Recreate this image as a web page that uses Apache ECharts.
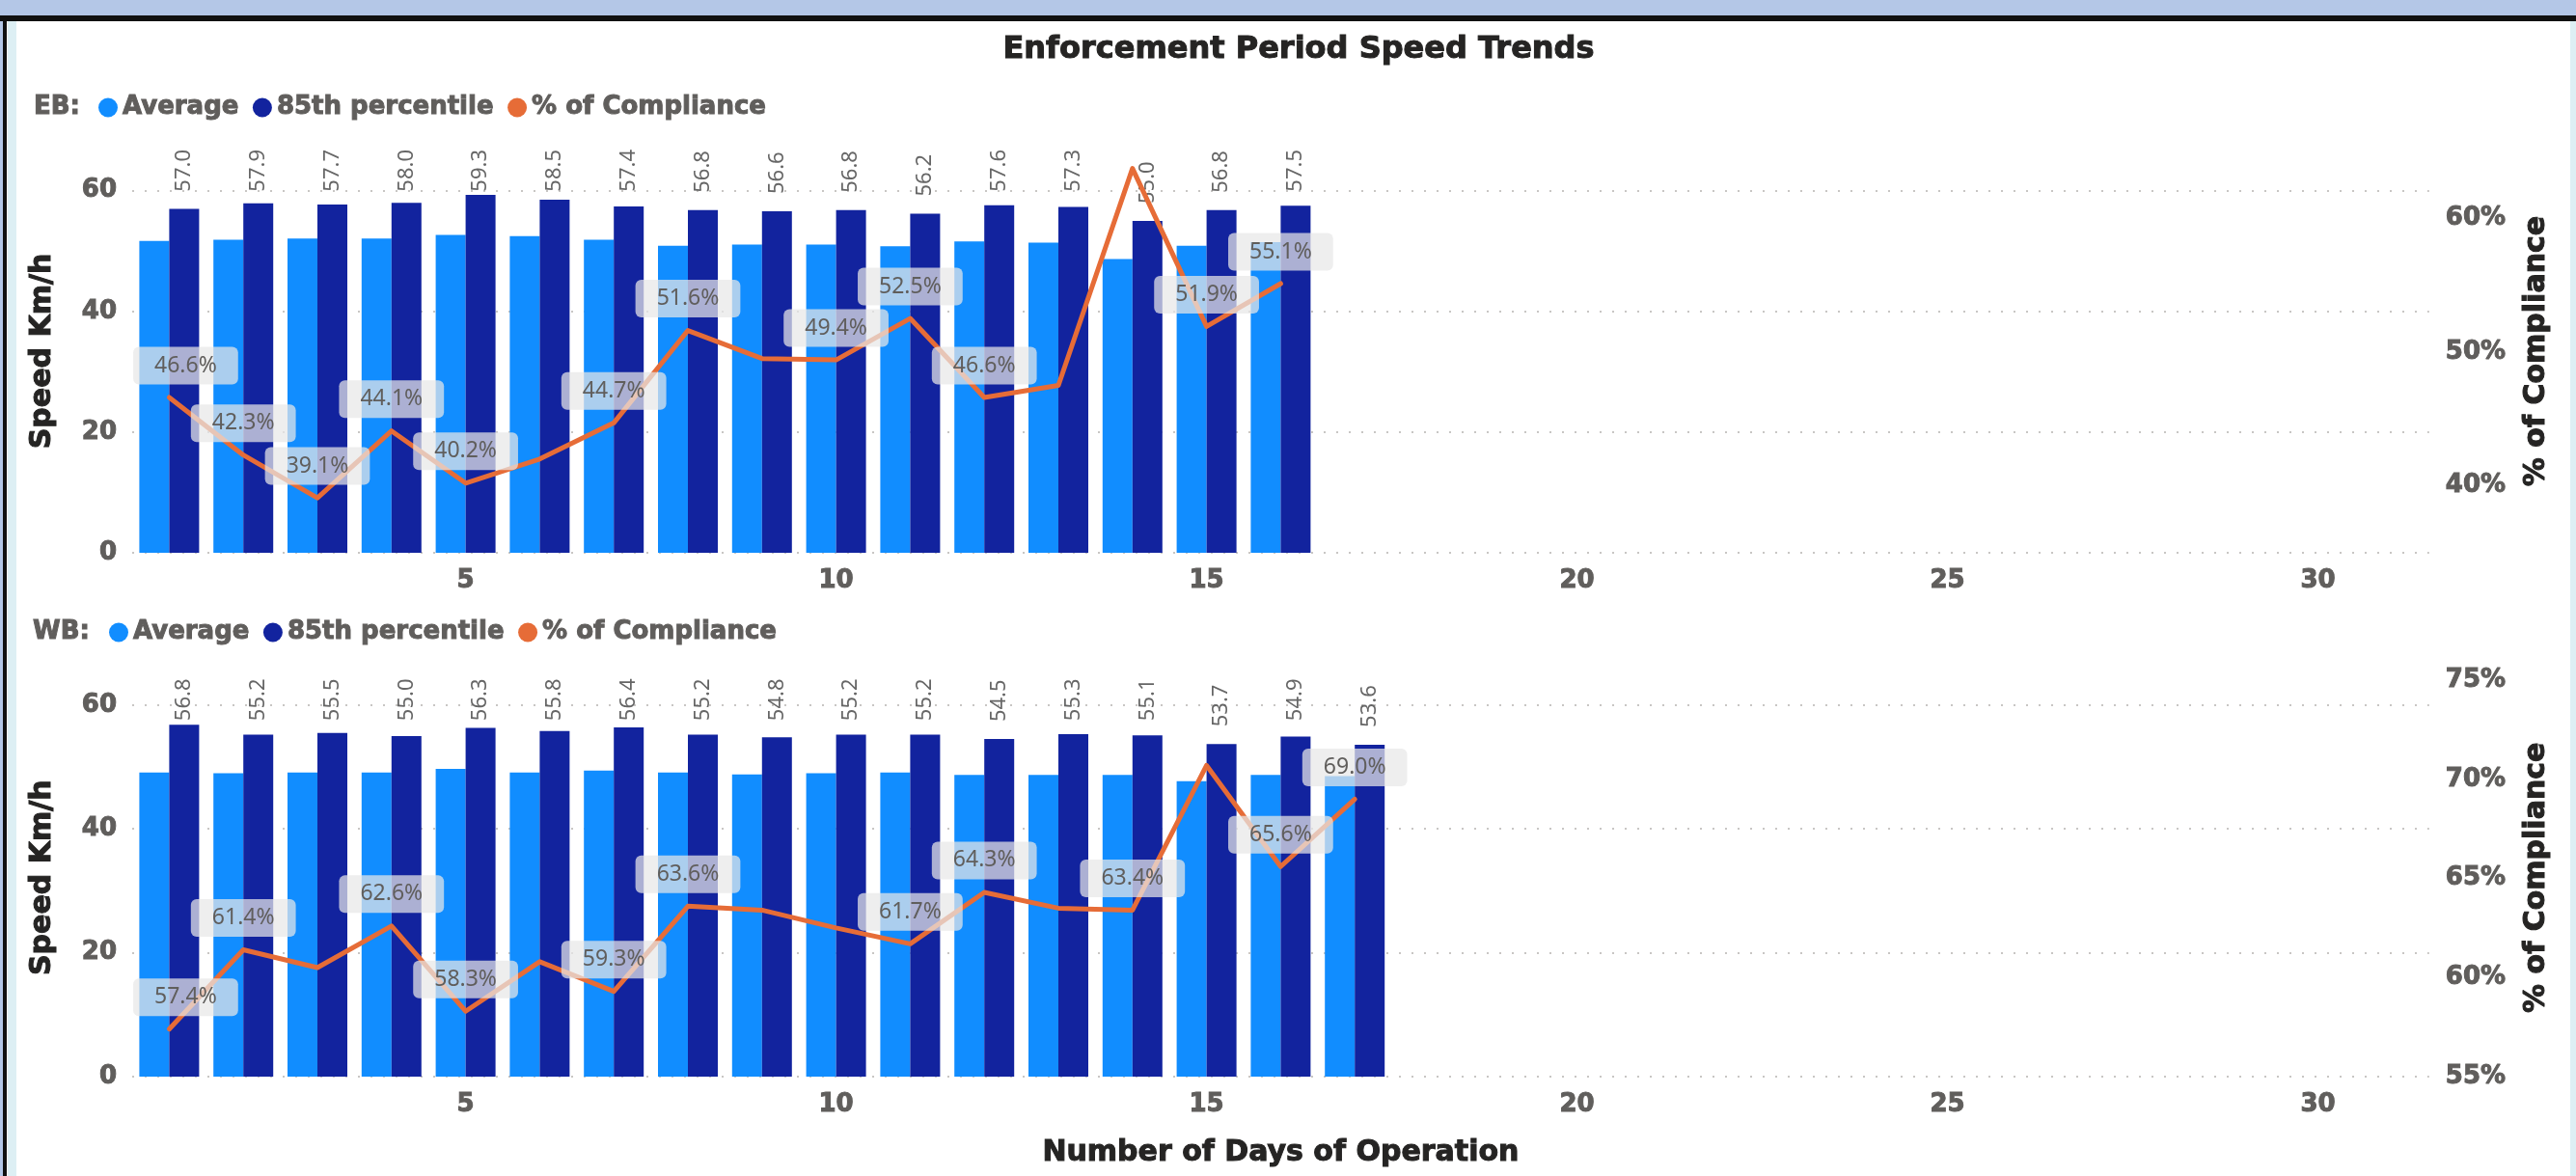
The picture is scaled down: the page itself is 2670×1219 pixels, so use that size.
<!DOCTYPE html>
<html>
<head>
<meta charset="utf-8">
<title>Enforcement Period Speed Trends</title>
<script src="https://cdn.jsdelivr.net/npm/echarts@6/dist/echarts.min.js"></script>
<style>
  html, body { margin: 0; padding: 0; background: #ffffff; }
  #chart { width: 2670px; height: 1219px; }
</style>
</head>
<body>
<div id="chart"></div>
<script>
// Day of operation categories (x axis) and the days that carry a tick label
const days = [1, 2, 3, 4, 5, 6, 7, 8, 9, 10, 11, 12, 13, 14, 15, 16, 17, 18, 19, 20,
              21, 22, 23, 24, 25, 26, 27, 28, 29, 30, 31];
const dayTicks = [5, 10, 15, 20, 25, 30];

// Axis tick labels
const speedTicks = [0, 20, 40, 60];
const ebPctTicks = [40, 50, 60];
const wbPctTicks = [55, 60, 65, 70, 75];

// Eastbound (EB)
const ebAverage    = [51.7, 51.9, 52.1, 52.1, 52.7, 52.5, 51.9, 50.9, 51.1, 51.1, 50.8, 51.6, 51.4, 48.7, 50.9, 51.5];
const eb85th       = [57.0, 57.9, 57.7, 58.0, 59.3, 58.5, 57.4, 56.8, 56.6, 56.8, 56.2, 57.6, 57.3, 55.0, 56.8, 57.5];
const ebCompliance = [46.6, 42.3, 39.1, 44.1, 40.2, 42.0, 44.7, 51.6, 49.5, 49.4, 52.5, 46.6, 47.5, 63.7, 51.9, 55.1];
const ebLabelledDays = [1, 2, 3, 4, 5, 7, 8, 10, 11, 12, 15, 16];

// Westbound (WB)
const wbAverage    = [49.1, 49.0, 49.1, 49.1, 49.7, 49.1, 49.4, 49.1, 48.8, 49.0, 49.1, 48.7, 48.7, 48.7, 47.7, 48.7, 48.5];
const wb85th       = [56.8, 55.2, 55.5, 55.0, 56.3, 55.8, 56.4, 55.2, 54.8, 55.2, 55.2, 54.5, 55.3, 55.1, 53.7, 54.9, 53.6];
const wbCompliance = [57.4, 61.4, 60.5, 62.6, 58.3, 60.8, 59.3, 63.6, 63.4, 62.5, 61.7, 64.3, 63.5, 63.4, 70.7, 65.6, 69.0];
const wbLabelledDays = [1, 2, 4, 5, 7, 8, 11, 12, 14, 16, 17];

// Palette and fonts
const C_AVG = '#118DFF';
const C_85 = '#12239E';
const C_LINE = '#E66C37';
const C_AXIS = '#605E5C';
const C_TITLE = '#252423';
const HEAVY = '"DejaVu Sans", Arial, sans-serif';
const BODY = '"Noto Sans", "Open Sans", sans-serif';

// heavy display text: bold face thickened with a thin outline of its own colour
function heavy(size, color) {
  return {
    fontFamily: HEAVY, fontWeight: 'bold', fontSize: size, color: color,
    textBorderColor: color, textBorderWidth: 1
  };
}

// Plot panels
const PLOT_LEFT = 137;
const PLOT_WIDTH = 2380.8;
const PANELS = [
  { top: 155, height: 418, speedMax: 66.83, pctMin: 35, pctMax: 65.11, pctTicks: ebPctTicks },
  { top: 703.5, height: 412.5, speedMax: 64.25, pctMin: 55, pctMax: 75.08, pctTicks: wbPctTicks }
];

const BAR_LABEL_FONT = 22;
const BAR_LABEL_GAP = 18;

const chart = echarts.init(document.getElementById('chart'), null, { renderer: 'canvas' });

const onTick = (v, list) => list.some(t => Math.abs(t - v) < 1e-6);

function lineData(values, labelledDays) {
  return values.map((v, i) => ({
    value: v,
    label: {
      show: labelledDays.includes(i + 1),
      // first label is nudged right so it stays inside the plot
      offset: i === 0 ? [17, 0] : [0, 0]
    }
  }));
}

const legendStyle = {
  icon: 'circle',
  itemWidth: 20,
  itemHeight: 20,
  itemGap: 14,
  selectedMode: false,
  textStyle: heavy(26, C_AXIS),
  data: ['Average', '85th percentile', '% of Compliance']
};

const gridLine = { show: true, lineStyle: { color: '#C8C6C4', width: 2, type: [2, 11] } };

function xAxisFor(gridIndex, withName) {
  return {
    type: 'category',
    gridIndex,
    data: days,
    boundaryGap: true,
    axisLine: { show: false },
    axisTick: { show: false },
    splitLine: { show: false },
    axisLabel: Object.assign({
      interval: (i, v) => dayTicks.includes(Number(v)),
      margin: 16
    }, heavy(26, C_AXIS)),
    name: withName ? 'Number of Days of Operation' : '',
    nameLocation: 'middle',
    nameGap: 64,
    nameTextStyle: heavy(30, C_TITLE)
  };
}

function speedAxis(gridIndex) {
  return {
    type: 'value',
    gridIndex,
    position: 'left',
    min: 0,
    max: PANELS[gridIndex].speedMax,
    interval: 20,
    axisLine: { show: false },
    axisTick: { show: false },
    splitLine: Object.assign({ showMaxLine: false }, gridLine),
    axisLabel: Object.assign({
      showMaxLabel: false,
      margin: 16,
      formatter: v => (onTick(v, speedTicks) ? String(v) : '')
    }, heavy(26, C_AXIS)),
    name: 'Speed Km/h',
    nameLocation: 'middle',
    nameRotate: 90,
    nameGap: 78,
    nameTextStyle: heavy(30, C_TITLE)
  };
}

function pctAxis(gridIndex) {
  const p = PANELS[gridIndex];
  return {
    type: 'value',
    gridIndex,
    position: 'right',
    min: p.pctMin,
    max: p.pctMax,
    interval: 5,
    axisLine: { show: false },
    axisTick: { show: false },
    splitLine: { show: false },
    axisLabel: Object.assign({
      showMaxLabel: false,
      margin: 17,
      formatter: v => (onTick(v, p.pctTicks) ? Math.round(v) + '%' : '')
    }, heavy(26, C_AXIS)),
    name: '% of Compliance',
    nameLocation: 'middle',
    nameRotate: 90,
    nameGap: 96,
    nameTextStyle: heavy(30, C_TITLE)
  };
}

const barLabel = {
  show: true,
  position: 'top',
  distance: BAR_LABEL_GAP,
  rotate: 90,
  align: 'left',
  verticalAlign: 'middle',
  formatter: p => p.value.toFixed(1),
  fontFamily: BODY,
  fontSize: BAR_LABEL_FONT,
  color: '#666666'
};

const pointLabel = {
  show: true,
  position: 'top',
  distance: 13,
  formatter: p => p.value.toFixed(1) + '%',
  fontFamily: BODY,
  fontSize: 23,
  color: C_AXIS,
  backgroundColor: 'rgba(232,232,232,0.72)',
  borderRadius: 6,
  padding: [8, 22]
};

function panelSeries(gridIndex, avg, p85, comp, labelled) {
  const ax = gridIndex * 2;
  return [
    {
      name: 'Average', type: 'bar',
      xAxisIndex: gridIndex, yAxisIndex: ax,
      data: avg, barWidth: 31, barGap: '0%',
      itemStyle: { color: C_AVG }
    },
    {
      name: '85th percentile', type: 'bar',
      xAxisIndex: gridIndex, yAxisIndex: ax,
      data: p85, barWidth: 31, barGap: '0%',
      itemStyle: { color: C_85 },
      label: barLabel
    },
    {
      name: '% of Compliance', type: 'line',
      xAxisIndex: gridIndex, yAxisIndex: ax + 1,
      data: lineData(comp, labelled),
      symbol: 'circle', symbolSize: 1, showSymbol: true,
      itemStyle: { color: C_LINE },
      lineStyle: { color: C_LINE, width: 5, cap: 'round', join: 'round' },
      label: pointLabel,
      z: 3
    }
  ];
}

const option = {
  backgroundColor: '#ffffff',
  animation: false,
  title: [
    {
      text: 'Enforcement Period Speed Trends',
      left: 1341, top: 31, textAlign: 'center',
      textStyle: heavy(32, C_TITLE)
    },
    { text: 'EB:', left: 30, top: 93, textStyle: heavy(26, C_AXIS) },
    { text: 'WB:', left: 29, top: 637, textStyle: heavy(26, C_AXIS) }
  ],
  legend: [
    Object.assign({ left: 97, top: 93 }, legendStyle),
    Object.assign({ left: 108, top: 637 }, legendStyle)
  ],
  grid: PANELS.map(p => ({ left: PLOT_LEFT, width: PLOT_WIDTH, top: p.top, height: p.height, containLabel: false })),
  xAxis: [xAxisFor(0, false), xAxisFor(1, true)],
  yAxis: [speedAxis(0), pctAxis(0), speedAxis(1), pctAxis(1)],
  series: [
    ...panelSeries(0, ebAverage, eb85th, ebCompliance, ebLabelledDays),
    ...panelSeries(1, wbAverage, wb85th, wbCompliance, wbLabelledDays)
  ],
  graphic: [
    // report frame: header band, rule and side edges
    { type: 'rect', shape: { x: 0, y: 0, width: 2670, height: 16 }, style: { fill: '#B4C7E7' }, silent: true },
    { type: 'rect', shape: { x: 0, y: 16, width: 2670, height: 6 }, style: { fill: '#111111' }, silent: true },
    { type: 'rect', shape: { x: 0, y: 22, width: 3, height: 1197 }, style: { fill: '#B4C7E7' }, silent: true },
    { type: 'rect', shape: { x: 3, y: 22, width: 4, height: 1197 }, style: { fill: '#111111' }, silent: true },
    { type: 'rect', shape: { x: 8, y: 22, width: 9, height: 1197 }, style: { fill: '#DDEFF4' }, silent: true },
    { type: 'rect', shape: { x: 2664, y: 22, width: 6, height: 1197 }, style: { fill: '#DDEFF4' }, silent: true }
  ]
};

chart.setOption(option);

// Keep rotated value labels inside the plot: tall bars pull their label down
// so that its far end stays at the top edge of the panel.
const measure = document.createElement('canvas').getContext('2d');
measure.font = BAR_LABEL_FONT + 'px ' + BODY;

function clampedBarData(values, gridIndex) {
  const top = PANELS[gridIndex].top;
  return values.map((v, i) => {
    const y = chart.convertToPixel({ xAxisIndex: gridIndex, yAxisIndex: gridIndex * 2 }, [i, v])[1];
    const len = measure.measureText(v.toFixed(1)).width;
    const room = y - top - len;
    return { value: v, label: { distance: Math.min(BAR_LABEL_GAP, Math.max(0, room)) } };
  });
}

chart.setOption({
  series: [
    {}, { data: clampedBarData(eb85th, 0) }, {},
    {}, { data: clampedBarData(wb85th, 1) }, {}
  ]
});
</script>
</body>
</html>
